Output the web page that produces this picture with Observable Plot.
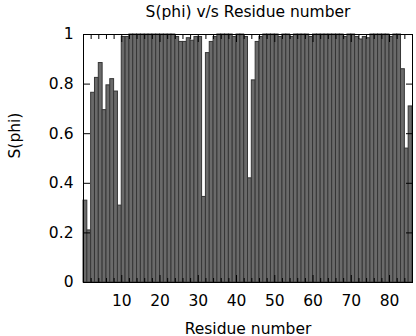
<!DOCTYPE html>
<html><head><meta charset="utf-8">
<script src="https://cdn.jsdelivr.net/npm/d3@7"></script>
<script src="https://cdn.jsdelivr.net/npm/@observablehq/plot@0.6"></script>
<style>html,body{margin:0;padding:0;background:#fff;}</style>
</head><body><div id="chart"></div>
<script>
const title = "S(phi) v/s Residue number";
const xLabel = "Residue number";
const yLabel = "S(phi)";
const sPhi = [
  0.33, 0.21, 0.765, 0.825, 0.885, 0.695, 0.795, 0.82, 0.77, 0.31,
  0.99, 0.99, 1.0, 1.0, 1.0, 1.0, 1.0, 1.0, 1.0, 1.0,
  1.0, 1.0, 1.0, 1.0, 0.99, 0.97, 0.97, 0.985, 0.975, 0.99,
  0.99, 0.345, 0.925, 0.97, 0.99, 1.0, 1.0, 1.0, 1.0, 0.99,
  1.0, 1.0, 0.99, 0.42, 0.815, 0.97, 0.99, 1.0, 1.0, 1.0,
  1.0, 0.99, 1.0, 1.0, 0.99, 1.0, 1.0, 1.0, 1.0, 0.99,
  1.0, 1.0, 1.0, 1.0, 1.0, 1.0, 1.0, 1.0, 0.99, 1.0,
  1.0, 0.99, 0.98, 0.99, 0.985, 1.0, 1.0, 1.0, 1.0, 1.0,
  0.99, 1.0, 1.0, 0.86, 0.54, 0.71
];
const xTicks = [10, 20, 30, 40, 50, 60, 70, 80];
const xMinorTicks = [2, 4, 6, 8, 12, 14, 16, 18, 22, 24, 26, 28, 32, 34, 36, 38, 42, 44, 46, 48,
  52, 54, 56, 58, 62, 64, 66, 68, 72, 74, 76, 78, 82, 84];
const yTicks = [0, 0.2, 0.4, 0.6, 0.8, 1];
const yTickLabels = ["0", "0.2", "0.4", "0.6", "0.8", "1"];

const data = sPhi.map((v, i) => ({residue: i + 1, s: v}));
const blank = () => "";

const chart = Plot.plot({
  width: 416,
  height: 336,
  marginLeft: 83,
  marginRight: 4,
  marginTop: 34,
  marginBottom: 54,
  style: {fontFamily: "DejaVu Sans", fontSize: "15.5px", color: "black", background: "white", overflow: "visible"},
  x: {domain: [0, 86]},
  y: {domain: [0, 1]},
  marks: [
    Plot.rectY(data, {x1: d => d.residue - 1, x2: d => d.residue, y: "s", fill: "#6a6a6a", stroke: "#363636", strokeWidth: 1}),
    Plot.axisX(xTicks, {anchor: "bottom", tickSize: 0, tickPadding: 12, label: null}),
    Plot.axisX(xTicks, {anchor: "bottom", tickSize: -7, tickFormat: blank, label: null}),
    Plot.axisX(xTicks, {anchor: "top", tickSize: -7, tickFormat: blank, label: null}),
    Plot.axisX(xMinorTicks, {anchor: "bottom", tickSize: -4, tickFormat: blank, label: null}),
    Plot.axisX(xMinorTicks, {anchor: "top", tickSize: -4, tickFormat: blank, label: null}),
    Plot.axisY(yTicks, {anchor: "left", tickSize: 0, tickPadding: 10, tickFormat: (d, i) => yTickLabels[i], label: null}),
    Plot.axisY(yTicks, {anchor: "left", tickSize: -7, tickFormat: blank, label: null}),
    Plot.axisY(yTicks, {anchor: "right", tickSize: -7, tickFormat: blank, label: null}),
    Plot.frame({stroke: "black", strokeWidth: 1}),
    Plot.text([title], {frameAnchor: "top", dy: -29, lineAnchor: "top", text: d => d}),
    Plot.text([xLabel], {frameAnchor: "bottom", dy: 40, lineAnchor: "top", text: d => d}),
    Plot.text([yLabel], {frameAnchor: "left", dx: -68, rotate: -90, text: d => d})
  ]
});
document.getElementById("chart").appendChild(chart);
</script>
</body></html>
